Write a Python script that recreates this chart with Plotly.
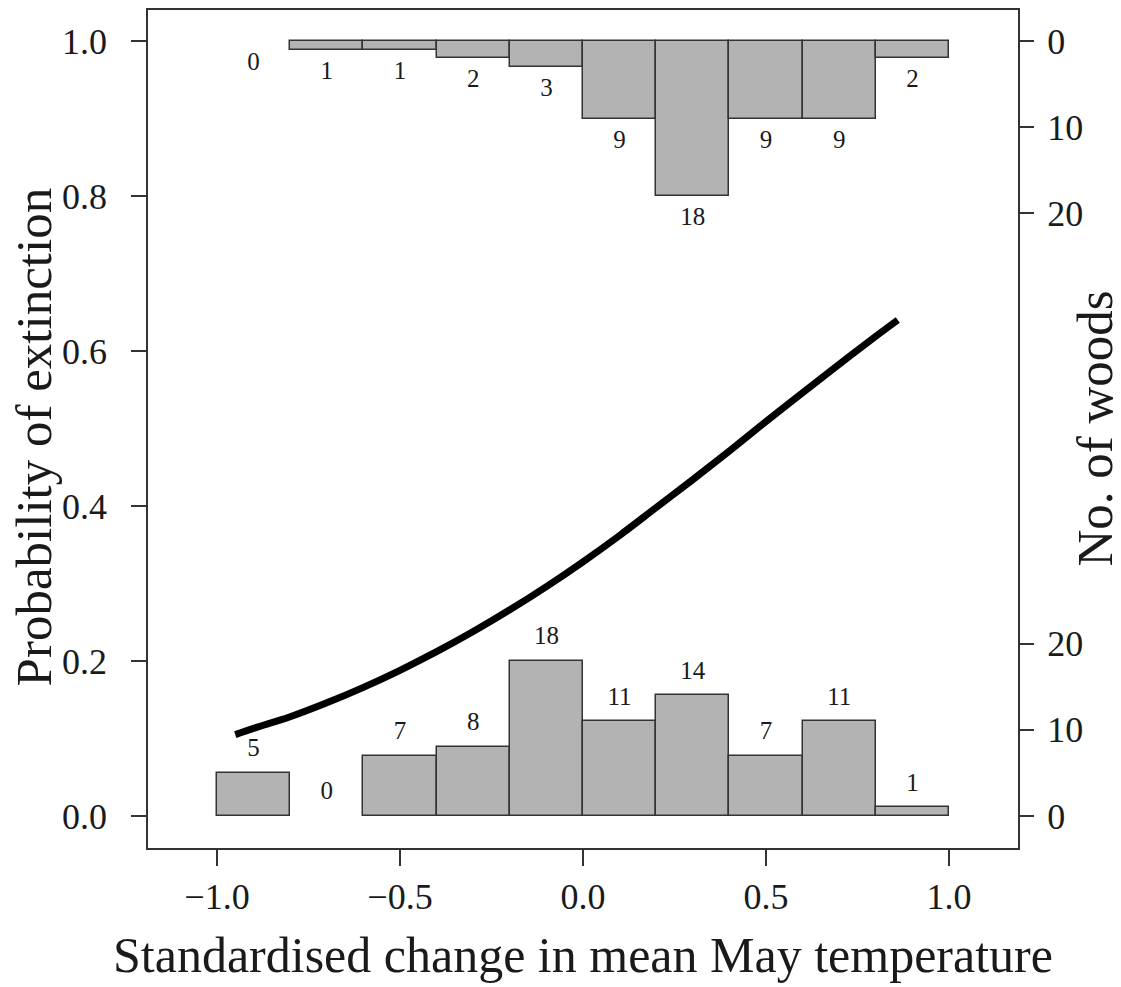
import plotly.graph_objects as go

# ---- data ----
bin_left = [-1.0, -0.8, -0.6, -0.4, -0.2, 0.0, 0.2, 0.4, 0.6, 0.8]
bin_width = 0.2
bottom_counts = [5, 0, 7, 8, 18, 11, 14, 7, 11, 1]   # woods not going extinct (drawn up from 0)
top_counts = [0, 1, 1, 2, 3, 9, 18, 9, 9, 2]          # woods going extinct (drawn down from 1)

curve_x = [-0.95, -0.9, -0.8, -0.7, -0.6, -0.5, -0.4, -0.3, -0.2, -0.1,
           0.0, 0.1, 0.2, 0.3, 0.4, 0.5, 0.6, 0.7, 0.8, 0.86]
curve_p = [0.105, 0.113, 0.128, 0.146, 0.166, 0.188, 0.212, 0.238, 0.266, 0.296,
           0.328, 0.362, 0.398, 0.434, 0.471, 0.509, 0.546, 0.583, 0.619, 0.640]

x_ticks = [-1.0, -0.5, 0.0, 0.5, 1.0]
x_tick_labels = ["\u22121.0", "\u22120.5", "0.0", "0.5", "1.0"]
y_ticks = [0.0, 0.2, 0.4, 0.6, 0.8, 1.0]
count_ticks = [0, 10, 20]

x_title = "Standardised change in mean May temperature"
y_title = "Probability of extinction"
y2_title = "No. of woods"

# ---- scales ----
COUNT_SCALE = 90.0          # counts per unit of probability on the plot
LABEL_OFF = 0.0297          # label offset in probability units
FONT = "Liberation Serif"
INK = "#1a1a1a"
LINE = "#333333"
BAR_FILL = "#B3B3B3"

centers = [b + bin_width / 2 for b in bin_left]

fig = go.Figure()

# bottom histogram
bx = [c for c, n in zip(centers, bottom_counts) if n > 0]
bh = [n / COUNT_SCALE for n in bottom_counts if n > 0]
fig.add_trace(go.Bar(x=bx, y=bh, base=0, width=bin_width,
                     marker=dict(color=BAR_FILL, line=dict(color=LINE, width=1.5)),
                     hoverinfo="skip", showlegend=False))

# top histogram (hanging from 1)
tx = [c for c, n in zip(centers, top_counts) if n > 0]
th = [n / COUNT_SCALE for n in top_counts if n > 0]
tb = [1 - n / COUNT_SCALE for n in top_counts if n > 0]
fig.add_trace(go.Bar(x=tx, y=th, base=tb, width=bin_width,
                     marker=dict(color=BAR_FILL, line=dict(color=LINE, width=1.5)),
                     hoverinfo="skip", showlegend=False))

# count labels
fig.add_trace(go.Scatter(x=centers, y=[n / COUNT_SCALE + LABEL_OFF for n in bottom_counts],
                         mode="text", text=[str(n) for n in bottom_counts],
                         textfont=dict(family=FONT, size=25, color=INK),
                         hoverinfo="skip", showlegend=False))
fig.add_trace(go.Scatter(x=centers, y=[1 - n / COUNT_SCALE - LABEL_OFF for n in top_counts],
                         mode="text", text=[str(n) for n in top_counts],
                         textfont=dict(family=FONT, size=25, color=INK),
                         hoverinfo="skip", showlegend=False))

# fitted curve
fig.add_trace(go.Scatter(x=curve_x, y=curve_p, mode="lines",
                         line=dict(color="black", width=7, shape="spline"),
                         hoverinfo="skip", showlegend=False))

# invisible trace for right axis
fig.add_trace(go.Scatter(x=[0], y=[0.5], yaxis="y2", mode="markers",
                         marker=dict(opacity=0), hoverinfo="skip", showlegend=False))

y_range = [-0.0413, 1.040]
r_vals = [c / COUNT_SCALE for c in count_ticks] + [1 - c / COUNT_SCALE for c in count_ticks]
r_text = [str(c) for c in count_ticks] * 2

tickfont = dict(family=FONT, size=36, color=INK)

fig.update_layout(
    width=1121, height=987,
    margin=dict(l=148, r=103, t=10, b=139, autoexpand=False),
    paper_bgcolor="white", plot_bgcolor="white",
    barmode="overlay", bargap=0,
    xaxis=dict(range=[-1.1885, 1.1885], tickvals=x_ticks, ticktext=x_tick_labels,
               ticks="outside", ticklen=16, tickwidth=1.5, tickcolor=LINE,
               showline=True, linecolor=LINE, linewidth=1.5, mirror=True,
               showgrid=False, zeroline=False, tickfont=tickfont, ticklabelstandoff=0,
               automargin=False),
    yaxis=dict(range=y_range, tickvals=y_ticks, tickformat=".1f",
               ticks="outside", ticklen=15, tickwidth=1.5, tickcolor=LINE,
               showline=True, linecolor=LINE, linewidth=1.5, mirror=True,
               showgrid=False, zeroline=False, tickfont=tickfont, ticklabelstandoff=17,
               automargin=False),
    yaxis2=dict(range=y_range, overlaying="y", side="right",
                tickvals=r_vals, ticktext=r_text,
                ticks="outside", ticklen=15, tickwidth=1.5, tickcolor=LINE,
                showline=False, showgrid=False, zeroline=False, tickfont=tickfont,
                ticklabelstandoff=6, automargin=False),
    annotations=[
        dict(text=x_title, xref="paper", yref="paper", x=0.5, y=-0.128,
             xanchor="center", yanchor="middle", showarrow=False,
             font=dict(family=FONT, size=50, color=INK)),
        dict(text=y_title, xref="paper", yref="paper", x=-0.131, y=0.49,
             xanchor="center", yanchor="middle", showarrow=False, textangle=-90,
             font=dict(family=FONT, size=51, color=INK)),
        dict(text=y2_title, xref="paper", yref="paper", x=1.088, y=0.50,
             xanchor="center", yanchor="middle", showarrow=False, textangle=-90,
             font=dict(family=FONT, size=51, color=INK)),
    ],
)

fig.write_html("out.html", config={"displayModeBar": False},
               post_script="document.body.style.margin='0';document.body.style.padding='0';")
